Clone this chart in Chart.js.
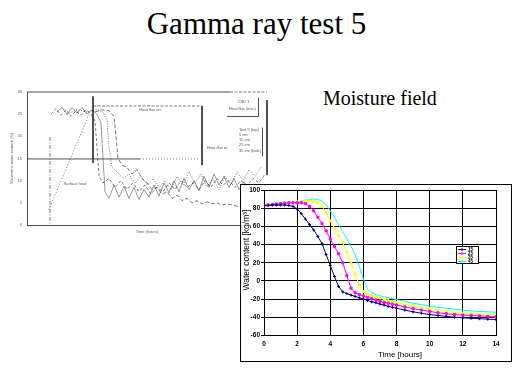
<!DOCTYPE html>
<html>
<head>
<meta charset="utf-8">
<script src="https://cdn.jsdelivr.net/npm/chart.js@4.4.1/dist/chart.umd.min.js"></script>
<style>
  html, body { margin:0; padding:0; background:#fff; }
  body { width:519px; height:389px; position:relative; overflow:hidden; }
  #title { position:absolute; left:0; top:8px; width:513px; text-align:center;
           font-family:"Liberation Serif","Times New Roman",serif; font-size:31px; line-height:1; color:#000; }
  #sub { position:absolute; left:323px; top:88px; font-family:"Liberation Serif","Times New Roman",serif;
         font-size:20px; line-height:1; color:#000; white-space:nowrap; }
  #leftWrap { position:absolute; left:0; top:85px; width:275px; height:155px; }
  #panel { position:absolute; left:240px; top:184px; width:270px; height:176px; border:1px solid #000; background:#fff; }
</style>
</head>
<body>
<div id="title">Gamma ray test 5</div>
<div id="sub">Moisture field</div>
<div id="leftWrap"><canvas id="left" width="275" height="155"></canvas></div>
<div id="panel"><canvas id="right" width="270" height="176"></canvas></div>
<script>
// ---------- Right chart data (Moisture field) ----------
const times = [0,0.25,0.5,0.75,1,1.25,1.5,1.75,2,2.25,2.5,2.75,3,3.25,3.5,3.75,4,4.25,4.5,4.75,5,5.25,5.5,5.75,6,6.25,6.5,6.75,7,7.25,7.5,7.75,8,8.5,9,9.5,10,10.5,11,11.5,12,12.5,13,13.5,14];
const series15 = [83,83,83.5,83.5,83.5,83.5,83,82,79,74,68,62,56,49,41,29,17,5,-6,-12,-14,-15.5,-17,-18.5,-20,-21.5,-23,-24,-25.5,-26.5,-28,-29,-30,-32,-34,-35.5,-37,-38,-39,-40,-40.5,-41,-41.5,-42,-42.5];
const series25 = [83,83.5,84,84.5,85,85.5,86,86,86,86,85,82,77,70,63,55,46,38,30,20,6,-8,-13,-15,-16.5,-18,-19.5,-21,-22.5,-23.5,-24.5,-25.5,-26.5,-28.5,-30.5,-32,-33.5,-35,-36,-37,-37.5,-38,-38.5,-39,-39.5];
const series35 = [83,83.5,84,84.5,85,85.5,86,86.5,87,87.5,88,88,87.5,86,82,75,66,58,50,42,32,20,7,-4,-12,-14.5,-16,-17.5,-19,-20,-21.5,-22.5,-23.5,-25.5,-27.5,-29,-30.5,-32,-33.5,-34.5,-35.5,-36,-36.5,-37,-37];
const series45 = [83,83.5,84,84.5,85,85.5,86,86.5,87,88,89,89.5,90,89.5,88,84,77,70,62,54,46,38,29,16,2,-9,-13,-15,-16.5,-17.5,-18.5,-19.5,-20.5,-22.5,-24.5,-26,-27.5,-29,-30,-31,-32,-33,-33.5,-34,-34.5];
const seriesLabels = ["15","25","35","45"];
const xTicksMax = 14, yMin = -60, yMax = 100;

// ---------- Left chart data (scanned gamma-ray plot) ----------
const leftCurve1 = [[2.4,5.0],[2.9,5.25],[3.4,4.95],[3.9,5.2],[4.4,4.9],[4.9,5.15],[5.4,4.95],[5.9,5.2],[6.4,5.0],[6.8,4.7],[7.0,3.5],[7.2,2.2],[7.6,1.9],[8.2,2.1],[8.8,1.7],[9.4,2.0],[10.0,1.6],[10.6,1.9],[11.2,1.5],[11.8,1.8],[12.4,1.4],[13.0,1.7],[13.6,1.5],[14.2,1.9],[14.8,1.6],[15.4,2.0],[16.0,1.7],[16.6,1.9],[17.2,1.6],[17.8,2.0],[18.4,1.7],[19.0,2.1],[19.6,1.8],[20.2,2.0],[20.8,1.7],[21.4,2.0],[22.0,1.8],[22.6,2.1],[23.2,1.9],[23.8,2.3]];
const leftCurve2 = [[3.0,5.1],[3.5,5.3],[4.0,5.0],[4.5,5.3],[5.0,5.05],[5.5,5.3],[6.0,5.0],[6.5,5.2],[7.0,5.0],[7.4,4.6],[7.6,3.0],[7.8,1.5],[8.2,1.2],[8.7,1.8],[9.2,1.25],[9.7,1.75],[10.2,1.2],[10.7,1.7],[11.2,1.15],[11.7,1.6],[12.2,1.25],[12.7,1.8],[13.2,1.3],[13.7,1.9],[14.2,1.45],[14.7,2.0],[15.2,1.5],[15.7,2.1],[16.2,1.6],[16.7,2.0],[17.2,1.55],[17.7,2.2],[18.2,1.7],[18.7,2.3],[19.2,1.8],[19.7,2.2],[20.2,1.7],[20.7,2.1],[21.2,1.6],[21.7,1.95],[22.2,1.45],[22.7,1.85],[23.2,1.35]];
const leftCurve3 = [[4.0,5.0],[5.0,5.2],[6.0,5.1],[7.0,5.2],[7.6,5.1],[8.0,4.7],[8.2,3.5],[8.5,2.6],[9.0,2.4],[9.6,2.1],[10.2,2.3],[10.8,1.9],[11.4,2.2],[12.0,1.8],[12.6,2.1],[13.2,1.7],[13.8,2.0],[14.4,1.6],[15.0,2.2],[15.6,1.8],[16.2,2.4],[16.8,1.9],[17.4,2.3],[18.0,1.7],[18.6,2.1],[19.2,1.6],[19.8,2.2],[20.4,1.8],[21.0,2.4],[21.6,2.0],[22.2,2.5],[22.8,2.2],[23.4,2.6]];
const leftCurve4 = [[6.8,5.1],[7.5,5.2],[8.2,5.15],[8.7,4.9],[8.9,4.0],[9.1,3.0],[9.5,2.7],[10.0,2.6],[10.5,2.3],[11.0,2.5],[11.5,2.1],[12.0,1.9],[12.5,1.6],[13.0,1.7],[13.5,1.4],[14.0,1.5],[14.5,1.2],[15.0,1.35],[15.5,1.1],[16.0,1.2],[16.5,1.0],[17.0,1.1],[17.5,0.95],[18.0,1.05],[18.5,0.95],[19.0,1.0],[19.5,0.9],[20.0,0.95],[21.0,0.85],[22.0,0.8],[23.0,0.78]];
const leftRamp = [[2.2,0.7],[6.2,5.0]];
const leftVertSolid = [[6.6,5.8],[6.6,2.8]];
const leftFluxTop = [[6.6,5.37],[17.5,5.37]];
const leftFluxSide = [[17.5,5.37],[17.5,2.7]];
const leftHorizSolid = [[0,2.98],[11.3,2.98]];
const leftHorizDotted = [[11.3,2.98],[17.3,2.98]];
const leftVertDashDot = [[2.3,3.97],[2.3,0]];
const leftTopSolid = [[0,6],[20.3,6]];
const leftTopDashed = [[20.3,6],[24,6]];
const leftRightEdge = [[24,5.64],[24,2.25]];
const leftYTicks = ["0","5","10","15","20","25","30"];
const leftLegendTexts = ["Test 5 (top)","5 cm","15 cm","25 cm","35 cm (bott.)"];

// ---------- Right chart ----------
const colors = ["#000080","#ff00ff","#ffff00","#00ffff"];
const pstyles = ["cross","rect","triangle",false];
const allSeries = [series15, series25, series35, series45];

const rightDecor = {
  id:'rightDecor',
  afterDraw(chart){
    const ctx = chart.ctx, ca = chart.chartArea;
    ctx.save();
    ctx.fillStyle = '#000';
    ctx.font = '8px "Liberation Sans", Arial, sans-serif';
    ctx.textAlign = 'center'; ctx.textBaseline = 'middle';
    ctx.fillText('Time [hours]', ca.left + 136, ca.bottom + 19);
    ctx.save();
    ctx.translate(6, ca.top + 60);
    ctx.rotate(-Math.PI/2);
    ctx.font = '8.5px "Liberation Sans", Arial, sans-serif';
    ctx.fillText('Water content [kg/m\u00B3]', 0, 0);
    ctx.restore();
    // legend box
    const lx = Math.round(ca.left + 192), ly = Math.round(ca.top + 56), lw = 22, lh = 17;
    ctx.fillStyle = '#fff';
    ctx.fillRect(lx, ly, lw, lh);
    ctx.strokeStyle = '#000'; ctx.lineWidth = 1;
    ctx.strokeRect(lx + 0.5, ly + 0.5, lw, lh);
    ctx.font = 'bold 4.5px "Liberation Sans", Arial, sans-serif';
    ctx.textAlign = 'left'; ctx.textBaseline = 'middle';
    chart.data.datasets.forEach((ds, i) => {
      const yy = ly + 3 + i * 4;
      ctx.strokeStyle = ds.borderColor; ctx.lineWidth = 1;
      ctx.beginPath(); ctx.moveTo(lx + 2, yy + 0.5); ctx.lineTo(lx + 10, yy + 0.5); ctx.stroke();
      ctx.fillStyle = ds.borderColor;
      ctx.fillRect(lx + 5, yy - 0.5, 2, 2);
      ctx.fillStyle = '#000';
      ctx.fillText(ds.label, lx + 12, yy + 0.7);
    });
    ctx.restore();
  }
};

new Chart(document.getElementById('right'), {
  type:'line',
  data:{
    datasets: allSeries.map((s, i) => ({
      label: seriesLabels[i],
      data: times.map((t, j) => ({x:t, y:s[j]})),
      borderColor: colors[i],
      backgroundColor: colors[i],
      borderWidth: 1,
      pointStyle: pstyles[i],
      pointRadius: pstyles[i] ? 1.5 : 0,
      pointBorderWidth: 1,
      tension: 0,
      fill: false
    }))
  },
  options:{
    responsive:false, animation:false, devicePixelRatio:1,
    layout:{ padding:{ top:5, right:15, left:0, bottom:0 } },
    plugins:{ legend:{display:false}, tooltip:{enabled:false} },
    scales:{
      x:{
        type:'linear', min:0, max:xTicksMax,
        ticks:{ stepSize:2, color:'#000', font:{ size:6.5, weight:'bold', family:'"Liberation Sans", Arial, sans-serif' }, padding:5, maxRotation:0 },
        grid:{ color:'#000', lineWidth:1, drawTicks:false },
        border:{ color:'#000', width:1 },
        afterFit(s){ s.height = 25.5; }
      },
      y:{
        min:yMin, max:yMax,
        ticks:{ stepSize:20, color:'#000', font:{ size:6.5, weight:'bold', family:'"Liberation Sans", Arial, sans-serif' }, padding:1 },
        grid:{ color:'#000', lineWidth:1, tickLength:3 },
        border:{ color:'#000', width:1 },
        afterFit(s){ s.width = 23; }
      }
    }
  },
  plugins:[rightDecor]
});

// ---------- Left chart ----------
const leftDecor = {
  id:'leftDecor',
  afterDraw(chart){
    const ctx = chart.ctx, xs = chart.scales.x, ys = chart.scales.y;
    const X = v => xs.getPixelForValue(v), Y = v => ys.getPixelForValue(v);
    ctx.save();
    ctx.fillStyle = '#555';
    ctx.font = '4px "Liberation Sans", Arial, sans-serif';
    ctx.textBaseline = 'middle';
    ctx.textAlign = 'right';
    leftYTicks.forEach((t, i) => ctx.fillText(t, X(0) - 5, Y(i)));
    ctx.save();
    ctx.translate(12, Y(3));
    ctx.rotate(-Math.PI/2);
    ctx.textAlign = 'center';
    ctx.fillText('Volumetric water content (%)', 0, 0);
    ctx.restore();
    ctx.textAlign = 'center';
    ctx.fillText('Time (hours)', X(12), Y(0) + 7);
    ctx.fillText('Heat flux on', X(12.3), Y(5.2));
    ctx.fillText('Surface heat', X(4.8), Y(1.85));
    ctx.fillText('Heat flux in', X(19), Y(3.5));
    const bx = X(20.0), by = Y(5.75), bw = X(23.1) - X(20.0), bh = Y(4.92) - Y(5.75);
    ctx.strokeStyle = '#222'; ctx.lineWidth = 0.8;
    ctx.beginPath();
    ctx.moveTo(bx, by + bh + 0.5); ctx.lineTo(bx + bw + 0.5, by + bh + 0.5); ctx.lineTo(bx + bw + 0.5, by);
    ctx.stroke();
    ctx.fillText('CRD 1', bx + bw/2 + 1, by + 4);
    ctx.fillText('Heat flux (inst.)', bx + bw/2, by + 11);
    ctx.textAlign = 'left';
    leftLegendTexts.forEach((t, i) => {
      const yy = Y(4.3) + i * 5.2;
      ctx.fillText(t, X(21.2), yy);
    });
    ctx.beginPath(); ctx.moveTo(X(23.5) + 0.5, Y(4.4)); ctx.lineTo(X(23.5) + 0.5, Y(3.1)); ctx.stroke();
    ctx.restore();
  }
};

const lineDs = (pts, dash, width, color) => ({
  data: pts.map(p => ({x:p[0], y:p[1]})),
  borderColor: color || '#222', borderWidth: width || 0.6, borderDash: dash || [],
  pointRadius:0, tension:0, fill:false, clip:3
});

new Chart(document.getElementById('left'), {
  type:'line',
  data:{ datasets:[
    lineDs(leftCurve1, [3,2]),
    lineDs(leftCurve2, [], 0.5, '#333'),
    lineDs(leftCurve3, [1,1.5]),
    lineDs(leftCurve4, [4,2]),
    lineDs(leftRamp, [1,2]),
    lineDs(leftVertSolid, [], 0.8),
    lineDs(leftFluxTop, [3,1.5]),
    lineDs(leftFluxSide, [], 0.8),
    lineDs(leftHorizSolid, [], 0.8),
    lineDs(leftHorizDotted, [1,2]),
    lineDs(leftVertDashDot, [4,1.5,1,1.5]),
    lineDs(leftTopSolid, [], 0.8),
    lineDs(leftTopDashed, [3,1.5]),
    lineDs(leftRightEdge, [], 0.8)
  ]},
  options:{
    responsive:false, animation:false, devicePixelRatio:1,
    layout:{ padding:{ top:7, right:8, left:0, bottom:0 } },
    plugins:{ legend:{display:false}, tooltip:{enabled:false} },
    scales:{
      x:{ type:'linear', min:0, max:24, ticks:{display:false}, grid:{display:false},
          border:{ color:'#222', width:0.8 }, afterFit(s){ s.height = 15; } },
      y:{ min:0, max:6, ticks:{display:false}, grid:{display:false},
          border:{ color:'#222', width:0.8 }, afterFit(s){ s.width = 27; } }
    }
  },
  plugins:[leftDecor]
});
</script>
</body>
</html>
